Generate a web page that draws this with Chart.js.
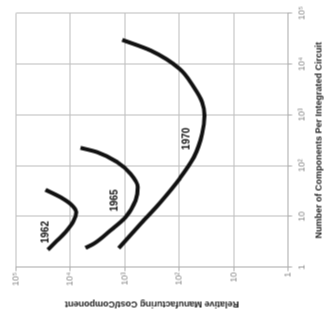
<!DOCTYPE html>
<html lang="en">
<head>
<meta charset="UTF-8">
<script src="https://cdn.jsdelivr.net/npm/chart.js"></script>
<title>Moore</title>
<style>
    * { margin: 0; padding: 0; }
    body { width: 328px; height: 313px; background: #fff; overflow: hidden; position: relative; }
    /* the chart is drawn upright, then turned a quarter turn to the left */
    .giro {
        position: absolute;
        left: 7.5px;
        top: -7.5px;
        width: 313px;
        height: 328px;
        transform: rotate(-90deg);
    }
</style>
</head>
<body>
<div class="giro">
    <canvas id="myChart" width="313" height="328"></canvas>
</div>

<script>
    // decade ticks, shared by both axes
    const decadas = [1, 10, 100, 1000, 10000, 100000];
    const etiquetasDecada = ['1', '10', '10²', '10³', '10⁴', '10⁵'];

    // components per circuit (x) and relative cost per component (y)
    const componentes1962 = [2.2, 3.1, 4.9, 8.3, 12.1, 16.4, 23.9, 33.4];
    const costo1962 = [26100, 18900, 12400, 8700, 7850, 9300, 15300, 28800];

    const componentes1965 = [2.4, 2.9, 5.3, 9.6, 20.6, 37.6, 69, 117, 184, 224];
    const costo1965 = [5300, 3730, 1840, 975, 638, 579, 789, 1385, 3230, 6550];

    const componentes1970 = [2.37, 7.1, 19, 55, 146, 423, 968, 1770, 3490, 8050, 18450, 29900];
    const costo1970 = [1295, 517, 222, 99, 54, 38, 34.4, 38, 54, 99, 338, 1120];

    // year labels next to each curve
    const anios = ['1962', '1965', '1970'];
    const anioComponentes = [4.9, 20.6, 337];
    const anioCosto = [28800, 1550, 74];

    function puntos(xs, ys) {
        return xs.map((x, i) => ({ x: x, y: ys[i] }));
    }

    function serie(nombre, xs, ys) {
        return {
            label: nombre,
            data: puntos(xs, ys),
            borderColor: '#111',
            borderWidth: 4,
            pointRadius: 0,
            fill: false,
            cubicInterpolationMode: 'monotone',
            borderCapStyle: 'butt'
        };
    }

    const ejeLog = (titulo, extra) => Object.assign({
        type: 'logarithmic',
        min: 1,
        max: 100000,
        afterBuildTicks: (eje) => { eje.ticks = decadas.map(v => ({ value: v })); },
        grid: {
            color: '#bdbdbd',
            lineWidth: 1,
            tickLength: 4,
            tickColor: '#aaa'
        },
        border: { color: '#aaa' },
        title: {
            display: true,
            text: titulo,
            color: '#222',
            font: { family: 'Liberation Sans', size: 9, weight: 'bold' }
        }
    }, extra);

    const rotulos = {
        id: 'rotulos',
        afterDatasetsDraw(chart) {
            const c = chart.ctx;
            const x = chart.scales.x, y = chart.scales.y;
            c.save();
            c.fillStyle = '#111';
            c.font = 'bold 10px "Liberation Sans"';
            c.textAlign = 'center';
            c.textBaseline = 'middle';
            anios.forEach((t, i) => {
                c.fillText(t, x.getPixelForValue(anioComponentes[i]), y.getPixelForValue(anioCosto[i]));
            });
            c.restore();
        }
    };

    const ctx = document.getElementById('myChart').getContext('2d');
    new Chart(ctx, {
        type: 'line',
        data: {
            datasets: [
                serie('1962', componentes1962, costo1962),
                serie('1965', componentes1965, costo1965),
                serie('1970', componentes1970, costo1970)
            ]
        },
        options: {
            responsive: false,
            animation: false,
            layout: { padding: { left: 0, right: 12.7, top: 15.6, bottom: 0 } },
            plugins: { legend: { display: false }, tooltip: { enabled: false } },
            scales: {
                x: ejeLog('Number of Components Per Integrated Circuit', {
                    position: 'bottom',
                    afterFit: (eje) => { eje.height = 40.4; },
                    ticks: {
                        color: '#888',
                        padding: 5,
                        maxRotation: 0,
                        autoSkip: false,
                        font: { family: 'Liberation Sans', size: 9 },
                        callback: (v) => etiquetasDecada[decadas.indexOf(v)]
                    }
                }),
                y: ejeLog('Relative Manufacturing Cost/Component', {
                    position: 'left',
                    afterFit: (eje) => { eje.width = 46.3; },
                    ticks: {
                        color: '#888',
                        padding: 1,
                        autoSkip: false,
                        font: { family: 'Liberation Sans', size: 9 },
                        callback: (v) => etiquetasDecada[decadas.indexOf(v)]
                    }
                })
            }
        },
        plugins: [rotulos]
    });
</script>
</body>
</html>
